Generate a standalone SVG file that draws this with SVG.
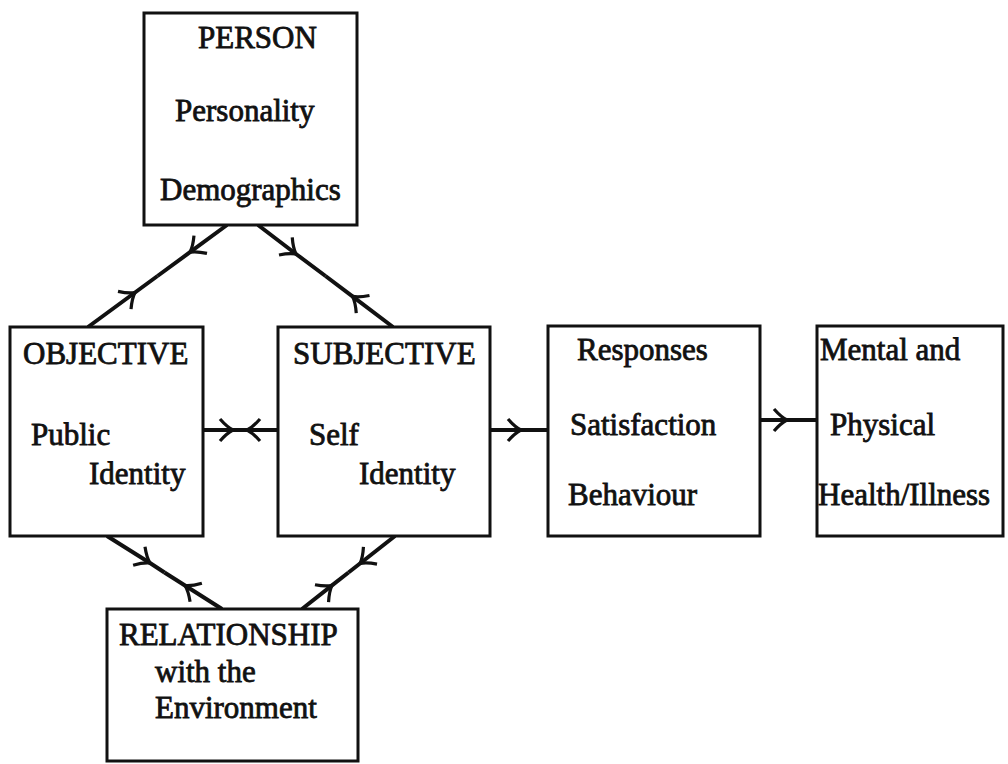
<svg xmlns="http://www.w3.org/2000/svg" width="1008" height="764" viewBox="0 0 1008 764">
<style>
.box{fill:#fff;stroke:#111;stroke-width:3}
.t{font-family:"Liberation Serif","Times New Roman",serif;font-size:31px;fill:#111;stroke:#111;stroke-width:0.8}
.c{fill:none;stroke:#111;stroke-width:4}
</style>
<defs>
<marker id="chev" markerUnits="userSpaceOnUse" markerWidth="30" markerHeight="30" viewBox="-15 -15 30 30" refX="0" refY="0" orient="auto" overflow="visible">
<path d="M -13 -11 Q -6 -3 0 0 Q -6 3 -13 11" fill="none" stroke="#111" stroke-width="3.2"/>
</marker>
</defs>
<rect width="1008" height="764" fill="#fff"/>
<g id="connectors">
<path class="c" d="M 227 225 L 190 252.2 L 157.5 276" marker-mid="url(#chev)"/>
<path class="c" d="M 88 327 L 135 292.5 L 157.5 276" marker-mid="url(#chev)"/>
<path class="c" d="M 258 225 L 296 254 L 325.5 276" marker-mid="url(#chev)"/>
<path class="c" d="M 393 327 L 352.5 296.4 L 325.5 276" marker-mid="url(#chev)"/>
<path class="c" d="M 203 430 L 233 430 L 240 430" marker-mid="url(#chev)"/>
<path class="c" d="M 278 430 L 247 430 L 240 430" marker-mid="url(#chev)"/>
<path class="c" d="M 490 430 L 521 430 L 548 430" marker-mid="url(#chev)"/>
<path class="c" d="M 760 420 L 787 420 L 817 420" marker-mid="url(#chev)"/>
<path class="c" d="M 107 536 L 150 563 L 164.5 572.5" marker-mid="url(#chev)"/>
<path class="c" d="M 222 609 L 185 585.5 L 164.5 572.5" marker-mid="url(#chev)"/>
<path class="c" d="M 395 536 L 360 563.5 L 348.5 572.5" marker-mid="url(#chev)"/>
<path class="c" d="M 302 609 L 332 585.4 L 348.5 572.5" marker-mid="url(#chev)"/>
</g>
<g id="person">
<rect class="box" x="144" y="13" width="213" height="212"/>
<text class="t" x="198" y="48">PERSON</text>
<text class="t" x="175" y="121">Personality</text>
<text class="t" x="160" y="200">Demographics</text>
</g>
<g id="objective">
<rect class="box" x="10" y="327" width="193" height="209"/>
<text class="t" x="23" y="364">OBJECTIVE</text>
<text class="t" x="31" y="445">Public</text>
<text class="t" x="89" y="484">Identity</text>
</g>
<g id="subjective">
<rect class="box" x="278" y="327" width="212" height="209"/>
<text class="t" x="293" y="364">SUBJECTIVE</text>
<text class="t" x="309" y="445">Self</text>
<text class="t" x="359" y="484">Identity</text>
</g>
<g id="responses">
<rect class="box" x="548" y="326" width="212" height="210"/>
<text class="t" x="577" y="360">Responses</text>
<text class="t" x="570" y="435">Satisfaction</text>
<text class="t" x="568" y="505">Behaviour</text>
</g>
<g id="health">
<rect class="box" x="817" y="326" width="186" height="210"/>
<text class="t" x="820" y="360">Mental and</text>
<text class="t" x="830" y="435">Physical</text>
<text class="t" x="818" y="505">Health/Illness</text>
</g>
<g id="relationship">
<rect class="box" x="107" y="609" width="251" height="152"/>
<text class="t" x="119" y="645">RELATIONSHIP</text>
<text class="t" x="155" y="682">with the</text>
<text class="t" x="155" y="718">Environment</text>
</g>
</svg>
